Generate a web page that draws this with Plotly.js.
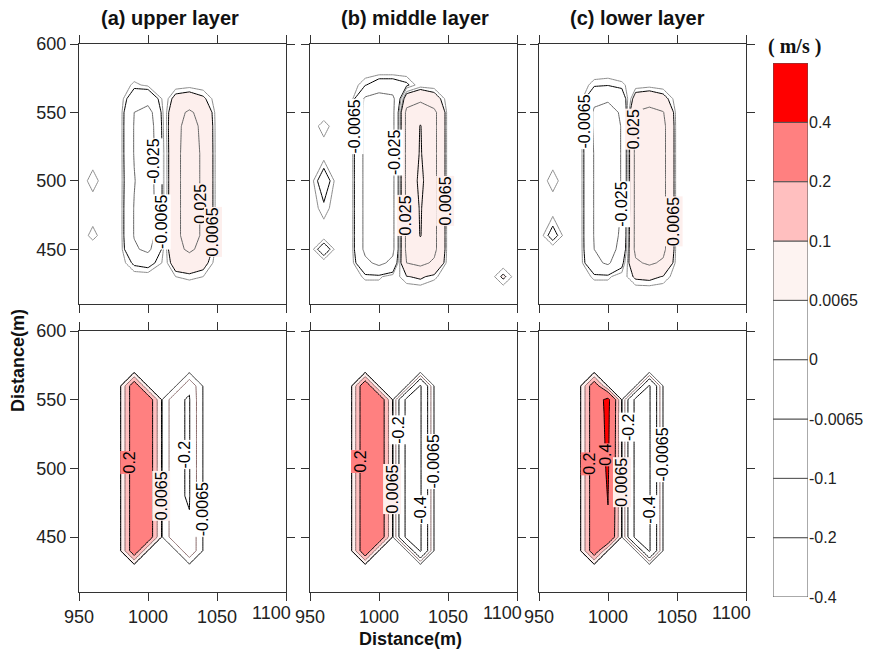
<!DOCTYPE html>
<html><head><meta charset="utf-8">
<script src="https://cdn.plot.ly/plotly-3.0.1.min.js"></script>
<style>html,body{margin:0;padding:0;background:#fff}#chart{width:877px;height:653px}</style>
</head><body><div id="chart"></div>
<script>
// grid coordinates (m)
const X = [950,960,970,980,990,1000,1010,1020,1030,1040,1050,1060,1070,1080,1090,1100];
const Y = [410,420,430,440,450,460,480,500,520,540,550,560,570,580,600];

// (a) upper layer, top row (m/s)
const zUpperTop = [
[0,0,0,0,0,0,0,0,0,0,0,0,0,0,0,0],
[0,0,0,0,0,0,0,0,0,0,0,0,0,0,0,0],
[0,0,0,0,0,0,0,0.003,0.004,0.003,0,0,0,0,0,0],
[0,0,0,0,-0.008,-0.01,-0.003,0.012,0.016,0.01,0,0,0,0,0,0],
[0,0,0,0,-0.022,-0.03,-0.006,0.02,0.028,0.02,0,0,0,0,0,0],
[0,-0.0045,0,0,-0.026,-0.04,-0.007,0.02,0.034,0.022,0,0,0,0,0,0],
[0,0,0,0,-0.026,-0.04,-0.007,0.02,0.034,0.022,0,0,0,0,0,0],
[0,-0.005,0,0,-0.024,-0.038,-0.007,0.02,0.034,0.022,0,0,0,0,0,0],
[0,0,0,0,-0.026,-0.04,-0.007,0.02,0.034,0.022,0,0,0,0,0,0],
[0,0,0,0,-0.026,-0.038,-0.006,0.02,0.032,0.021,0,0,0,0,0,0],
[0,0,0,0,-0.025,-0.034,-0.005,0.018,0.028,0.018,0,0,0,0,0,0],
[0,0,0,0,-0.014,-0.016,-0.003,0.01,0.012,0.008,0,0,0,0,0,0],
[0,0,0,0,-0.004,-0.002,0,0,0.001,0,0,0,0,0,0,0],
[0,0,0,0,0,0,0,0,0,0,0,0,0,0,0,0],
[0,0,0,0,0,0,0,0,0,0,0,0,0,0,0,0]
];
// (b) middle layer, top row
const zMiddleTop = [
[0,0,0,0,0,0,0,0,0,0,0,0,0,0,0,0],
[0,0,0,0,0,0,0,0,0,0,0,0,0,0,0,0],
[0,0,0,0,-0.004,-0.004,0,0.006,0.008,0.004,0,0,0,0,0.008,0],
[0,0,0,0,-0.02,-0.03,-0.02,0.025,0.03,0.022,0,0,0,0,0,0],
[0,-0.012,0,0,-0.03,-0.04,-0.03,0.03,0.04,0.03,0,0,0,0,0,0],
[0,0,0,0,-0.03,-0.04,-0.03,0.03,0.051,0.03,0,0,0,0,0,0],
[0,-0.005,0,0,-0.03,-0.04,-0.03,0.03,0.052,0.03,0,0,0,0,0,0],
[0,-0.012,0,0,-0.03,-0.04,-0.03,0.03,0.056,0.03,0,0,0,0,0,0],
[0,0,0,0,-0.03,-0.04,-0.03,0.03,0.052,0.03,0,0,0,0,0,0],
[0,-0.005,0,0,-0.03,-0.04,-0.03,0.03,0.051,0.03,0,0,0,0,0,0],
[0,0,0,0,-0.03,-0.04,-0.03,0.03,0.04,0.03,0,0,0,0,0,0],
[0,0,0,0,-0.028,-0.035,-0.03,0.015,0.02,0.012,0,0,0,0,0,0],
[0,0,0,0,-0.006,-0.012,-0.012,-0.008,0,0,0,0,0,0,0,0],
[0,0,0,0,0,0,0,0,0,0,0,0,0,0,0,0],
[0,0,0,0,0,0,0,0,0,0,0,0,0,0,0,0]
];
// (c) lower layer, top row
const zLowerTop = [
[0,0,0,0,0,0,0,0,0,0,0,0,0,0,0,0],
[0,0,0,0,0,0,0,0,0,0,0,0,0,0,0,0],
[0,0,0,0,-0.004,-0.004,0,0.008,0.009,0.006,0,0,0,0,0,0],
[0,0,0,0,-0.02,-0.028,-0.01,0.022,0.028,0.022,0,0,0,0,0,0],
[0,0,0,0,-0.025,-0.032,-0.02,0.03,0.036,0.03,0,0,0,0,0,0],
[0,-0.01,0,0,-0.026,-0.034,-0.022,0.03,0.038,0.03,0,0,0,0,0,0],
[0,0,0,0,-0.026,-0.036,-0.024,0.03,0.038,0.03,0,0,0,0,0,0],
[0,-0.005,0,0,-0.026,-0.036,-0.024,0.03,0.038,0.03,0,0,0,0,0,0],
[0,0,0,0,-0.026,-0.036,-0.024,0.03,0.038,0.03,0,0,0,0,0,0],
[0,0,0,0,-0.028,-0.036,-0.024,0.03,0.038,0.03,0,0,0,0,0,0],
[0,0,0,0,-0.028,-0.034,-0.022,0.026,0.032,0.026,0,0,0,0,0,0],
[0,0,0,0,-0.02,-0.022,-0.014,0.012,0.014,0.01,0,0,0,0,0,0],
[0,0,0,0,-0.005,-0.006,-0.004,0,0.001,0,0,0,0,0,0,0],
[0,0,0,0,0,0,0,0,0,0,0,0,0,0,0,0],
[0,0,0,0,0,0,0,0,0,0,0,0,0,0,0,0]
];
// (a) upper layer, bottom row
const zUpperBot = [
[0,0,0,0,0,0,0,0,0,0,0,0,0,0,0,0],
[0,0,0,0,0,0,0,0,0,0,0,0,0,0,0,0],
[0,0,0,0,0,0,0,0,0,0,0,0,0,0,0,0],
[0,0,0,0,0.3,0,0,0,-0.195,0,0,0,0,0,0,0],
[0,0,0,0,0.3,0.3,0,-0.19,-0.195,0,0,0,0,0,0,0],
[0,0,0,0,0.3,0.3,0,-0.19,-0.195,0,0,0,0,0,0,0],
[0,0,0,0,0.3,0.3,0,-0.19,-0.205,0,0,0,0,0,0,0],
[0,0,0,0,0.3,0.3,0,-0.19,-0.205,0,0,0,0,0,0,0],
[0,0,0,0,0.3,0.3,0,-0.19,-0.205,0,0,0,0,0,0,0],
[0,0,0,0,0.3,0.3,0,-0.19,-0.205,0,0,0,0,0,0,0],
[0,0,0,0,0.3,0.3,0,-0.19,-0.205,0,0,0,0,0,0,0],
[0,0,0,0,0.3,0,0,0,-0.19,0,0,0,0,0,0,0],
[0,0,0,0,0,0,0,0,0,0,0,0,0,0,0,0],
[0,0,0,0,0,0,0,0,0,0,0,0,0,0,0,0],
[0,0,0,0,0,0,0,0,0,0,0,0,0,0,0,0]
];
// (b) middle layer, bottom row
const zMiddleBot = [
[0,0,0,0,0,0,0,0,0,0,0,0,0,0,0,0],
[0,0,0,0,0,0,0,0,0,0,0,0,0,0,0,0],
[0,0,0,0,0,0,0,0,0,0,0,0,0,0,0,0],
[0,0,0,0,0.32,0,0,0,-0.42,0,0,0,0,0,0,0],
[0,0,0,0,0.32,0.32,0,-0.45,-0.42,0,0,0,0,0,0,0],
[0,0,0,0,0.32,0.32,0,-0.45,-0.42,0,0,0,0,0,0,0],
[0,0,0,0,0.32,0.32,0,-0.45,-0.42,0,0,0,0,0,0,0],
[0,0,0,0,0.32,0.32,0,-0.45,-0.42,0,0,0,0,0,0,0],
[0,0,0,0,0.32,0.32,0,-0.45,-0.42,0,0,0,0,0,0,0],
[0,0,0,0,0.32,0.32,0,-0.45,-0.42,0,0,0,0,0,0,0],
[0,0,0,0,0.32,0.32,0,-0.45,-0.42,0,0,0,0,0,0,0],
[0,0,0,0,0.32,0,0,0,-0.42,0,0,0,0,0,0,0],
[0,0,0,0,0,0,0,0,0,0,0,0,0,0,0,0],
[0,0,0,0,0,0,0,0,0,0,0,0,0,0,0,0],
[0,0,0,0,0,0,0,0,0,0,0,0,0,0,0,0]
];
// (c) lower layer, bottom row
const zLowerBot = [
[0,0,0,0,0,0,0,0,0,0,0,0,0,0,0,0],
[0,0,0,0,0,0,0,0,0,0,0,0,0,0,0,0],
[0,0,0,0,0,0,0,0,0,0,0,0,0,0,0,0],
[0,0,0,0,0.3,0,0,0,-0.42,0,0,0,0,0,0,0],
[0,0,0,0,0.3,0.38,0,-0.45,-0.42,0,0,0,0,0,0,0],
[0,0,0,0,0.3,0.39,0,-0.45,-0.42,0,0,0,0,0,0,0],
[0,0,0,0,0.3,0.405,0,-0.45,-0.42,0,0,0,0,0,0,0],
[0,0,0,0,0.3,0.42,0,-0.45,-0.42,0,0,0,0,0,0,0],
[0,0,0,0,0.3,0.43,0,-0.45,-0.42,0,0,0,0,0,0,0],
[0,0,0,0,0.3,0.44,0,-0.45,-0.42,0,0,0,0,0,0,0],
[0,0,0,0,0.3,0.45,0,-0.45,-0.42,0,0,0,0,0,0,0],
[0,0,0,0,0.3,0,0,0,-0.42,0,0,0,0,0,0,0],
[0,0,0,0,0,0,0,0,0,0,0,0,0,0,0,0],
[0,0,0,0,0,0,0,0,0,0,0,0,0,0,0,0],
[0,0,0,0,0,0,0,0,0,0,0,0,0,0,0,0]
];

const panelTitles = ['(a) upper layer', '(b) middle layer', '(c) lower layer'];
const xTicks = [950, 1000, 1050, 1100];
const xTickText = ['950', '1000', '1050', '1100'];
const yTicks = [450, 500, 550, 600];
const topLineLevels = [-0.025, -0.0065, -0.003, 0.003, 0.0065, 0.025, 0.05];
const bottomLineLevels = [-0.4, -0.2, -0.1, -0.0065, -0.003, 0.003, 0.0065, 0.1, 0.2, 0.4];
const fillLevels = [0.0065, 0.1, 0.2, 0.4];
const fillColors = ['#fdefed', '#ffbfbf', '#ff8080', '#ff0000'];
const cbLabels = ['-0.4', '-0.2', '-0.1', '-0.0065', '0', '0.0065', '0.1', '0.2', '0.4'];
const cbColors = ['#ffffff', '#ffffff', '#ffffff', '#ffffff', '#ffffff', '#fdf3f1', '#ffbfbf', '#ff8080', '#ff0000'];
const unitLabel = '( m/s )';
const axisLabel = 'Distance(m)';

// contour-label placement (presentation): level, label centre height, which crossing
const labelPlacement = [
  [[-0.025, 514, 'R'], [-0.0065, 470, 'R'], [0.025, 483, 'R'], [0.0065, 463, 'R']],
  [[-0.0065, 540, 'L'], [-0.025, 521, 'R'], [0.025, 475, 'L'], [0.0065, 485, 'R']],
  [[-0.0065, 543, 'L'], [-0.025, 483, 'R'], [0.025, 538, 'L'], [0.0065, 470, 'R']],
  [[0.2, 504, 'L'], [0.0065, 480, 'R'], [-0.2, 510, 'L'], [-0.0065, 470, 'R']],
  [[0.2, 505, 'L'], [0.0065, 485, 'R'], [-0.2, 528, 'L'], [-0.4, 470, 'R'], [-0.0065, 505, 'R']],
  [[0.2, 503, 'L'], [0.4, 510, 'L'], [0.0065, 490, 'R'], [-0.2, 530, 'L'], [-0.4, 470, 'R'], [-0.0065, 510, 'R']]
];

const FONT = 'Liberation Sans, Arial, sans-serif';
function lineStyle(lv) {
  const a = Math.abs(lv);
  if (a < 0.005) return '#8c8c8c';
  if (a === 0.025) return '#666666';
  if (a === 0.1) return '#8a6a6a';
  return '#000000';
}
function bandColor(v) {
  let c = '#ffffff';
  fillLevels.forEach((lv, k) => { if (v > lv) c = fillColors[k]; });
  return c;
}
// z along a horizontal line at height y (linear between grid rows)
function rowAt(z, y) {
  let j = 0;
  while (j < Y.length - 2 && Y[j + 1] < y) j++;
  const t = (y - Y[j]) / (Y[j + 1] - Y[j]);
  return z[j].map((v, i) => v + (z[j + 1][i] - v) * t);
}
function crossingX(z, y, lv, side) {
  const r = rowAt(z, y), xs = [];
  for (let i = 0; i < r.length - 1; i++) {
    if ((r[i] - lv) * (r[i + 1] - lv) < 0) xs.push(X[i] + (X[i + 1] - X[i]) * (lv - r[i]) / (r[i + 1] - r[i]));
  }
  if (!xs.length) return null;
  return side === 'L' ? xs[0] : xs[xs.length - 1];
}

const panels = [
  {z: zUpperTop, levels: topLineLevels},
  {z: zMiddleTop, levels: topLineLevels},
  {z: zLowerTop, levels: topLineLevels},
  {z: zUpperBot, levels: bottomLineLevels},
  {z: zMiddleBot, levels: bottomLineLevels},
  {z: zLowerBot, levels: bottomLineLevels}
];

const W = 877, H = 653;
const layout = {
  width: W, height: H, margin: {l: 0, r: 0, t: 0, b: 0},
  paper_bgcolor: '#fff', plot_bgcolor: '#fff', showlegend: false,
  font: {family: FONT, color: '#222'},
  annotations: []
};

const traces = [];
panels.forEach((p, i) => {
  const n = i + 1;
  const sfx = n === 1 ? '' : String(n);
  const xa = 'x' + sfx, ya = 'y' + sfx;
  const zmax = Math.max(...p.z.flat()), zmin = Math.min(...p.z.flat());
  fillLevels.forEach((lv, k) => {
    if (zmax <= lv) return;
    traces.push({type: 'contour', x: X, y: Y, z: p.z, xaxis: xa, yaxis: ya,
      contours: {type: 'constraint', operation: '<', value: lv},
      fillcolor: fillColors[k], line: {width: 0, smoothing: 0},
      showscale: false, hoverinfo: 'skip', showlegend: false});
  });
  p.levels.forEach(lv => {
    if (lv >= zmax || lv <= zmin) return;
    traces.push({type: 'contour', x: X, y: Y, z: p.z, xaxis: xa, yaxis: ya,
      autocontour: false,
      contours: {start: lv, end: lv, size: 1, coloring: 'none', showlabels: false},
      line: {color: lineStyle(lv), width: 1, smoothing: 0},
      showscale: false, hoverinfo: 'skip', showlegend: false});
  });
  labelPlacement[i].forEach(([lv, y, side]) => {
    const x = crossingX(p.z, y, lv, side);
    if (x === null) return;
    const bg = lv >= 0.4 ? bandColor(lv - 1e-9) : (lv > 0 ? bandColor(lv + 1e-9) : '#ffffff');
    layout.annotations.push({text: String(lv), xref: xa, yref: ya, x: x, y: y, textangle: -90,
      showarrow: false, xanchor: 'center', yanchor: 'middle', bgcolor: bg, borderpad: 0,
      font: {family: FONT, size: 16, color: '#000'}});
  });
});

// discrete colour bar
traces.push({type: 'bar', x: cbColors.map(() => 0), y: cbColors.map(() => 1),
  base: cbColors.map((c, i) => i), width: 1,
  marker: {color: cbColors, line: {color: '#555', width: 1}},
  xaxis: 'x7', yaxis: 'y7', hoverinfo: 'skip', showlegend: false});

const colDomains = [[79 / W, 286 / W], [310 / W, 517 / W], [539 / W, 746 / W]];
const rowDomains = [[1 - 304 / H, 1 - 44 / H], [1 - 592 / H, 1 - 331 / H]];
const titleCentres = [170 / W, 415 / W, 637 / W];
const lastTick = xTickText.length - 1;
const axBase = {showline: true, linecolor: '#333', linewidth: 1, mirror: 'ticks', ticks: 'outside',
  ticklen: 8, tickcolor: '#333', showgrid: false, zeroline: false, fixedrange: true,
  tickfont: {family: FONT, size: 18, color: '#222'}};
for (let i = 0; i < 6; i++) {
  const n = i + 1, r = Math.floor(i / 3), c = i % 3;
  const sfx = n === 1 ? '' : String(n);
  // the last x label is drawn pulled inside its panel, as in the original figure
  const tt = xTickText.map((t, k) => k === lastTick ? '' : t);
  layout['xaxis' + sfx] = Object.assign({}, axBase, {domain: colDomains[c], anchor: 'y' + sfx,
    range: [950, 1100], tickvals: xTicks, ticktext: tt, showticklabels: r === 1});
  layout['yaxis' + sfx] = Object.assign({}, axBase, {domain: rowDomains[r], anchor: 'x' + sfx,
    range: [410, 600], tickvals: yTicks, showticklabels: c === 0});
  if (r === 1) {
    layout.annotations.push({text: xTickText[lastTick], xref: 'x' + sfx, yref: 'paper',
      x: xTicks[lastTick], y: rowDomains[1][0], xanchor: 'right', yanchor: 'middle',
      xshift: 7, yshift: -21, showarrow: false, font: {family: FONT, size: 18, color: '#222'}});
  }
}
layout.xaxis7 = {domain: [773 / W, 808 / W], anchor: 'y7', range: [-0.5, 0.5], visible: false, fixedrange: true};
layout.yaxis7 = {domain: [1 - 597 / H, 1 - 63 / H], anchor: 'x7', side: 'right', range: [0, 9],
  tickvals: cbLabels.map((t, i) => i), ticktext: cbLabels, ticks: '', showline: false,
  showgrid: false, zeroline: false, fixedrange: true, tickfont: {family: FONT, size: 16, color: '#222'}};

panelTitles.forEach((t, c) => {
  layout.annotations.push({text: '<b>' + t + '</b>', xref: 'paper', yref: 'paper',
    x: titleCentres[c], y: 1 - 18 / H, xanchor: 'center', yanchor: 'middle',
    showarrow: false, font: {family: FONT, size: 20, color: '#111'}});
});
layout.annotations.push({text: '<b>' + axisLabel + '</b>', xref: 'paper', yref: 'paper',
  x: 18 / W, y: 1 - 361 / H, textangle: -90, xanchor: 'center', yanchor: 'middle', showarrow: false,
  font: {family: FONT, size: 18, color: '#111'}});
layout.annotations.push({text: '<b>' + axisLabel + '</b>', xref: 'paper', yref: 'paper',
  x: 410 / W, y: 1 - 639 / H, xanchor: 'center', yanchor: 'middle', showarrow: false,
  font: {family: FONT, size: 18, color: '#111'}});
layout.annotations.push({text: '<b>' + unitLabel + '</b>', xref: 'paper', yref: 'paper',
  x: 794 / W, y: 1 - 46 / H, xanchor: 'center', yanchor: 'middle', showarrow: false,
  font: {family: 'Liberation Serif, Times New Roman, serif', size: 20, color: '#111'}});

Plotly.newPlot('chart', traces, layout, {staticPlot: true, displayModeBar: false});
</script>
</body></html>
